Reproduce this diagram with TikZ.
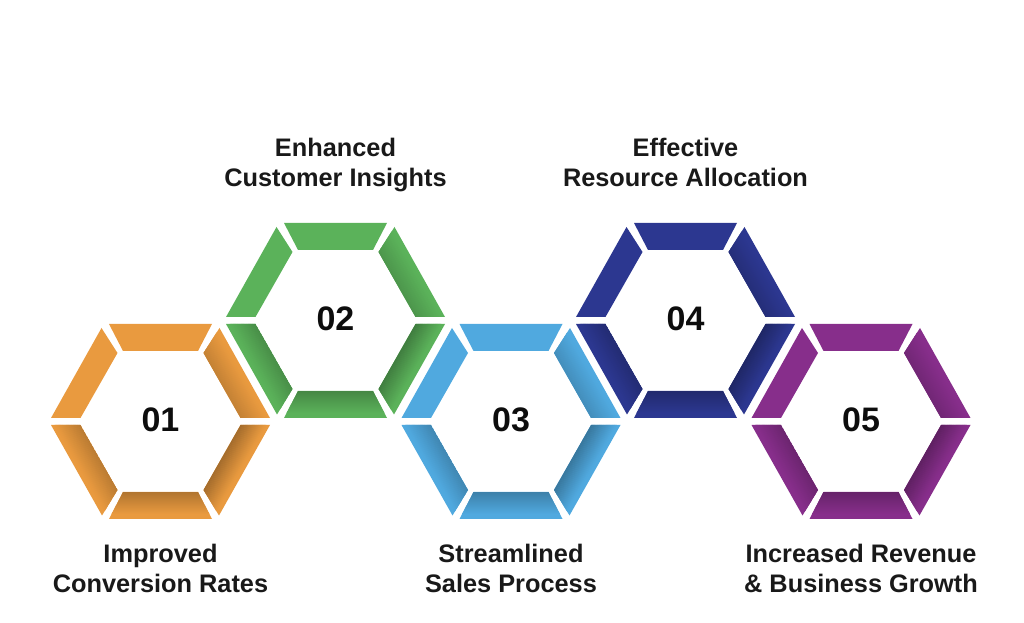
\documentclass[tikz,border=0pt]{standalone}
\usepackage{fontspec}
\setmainfont{Liberation Sans}
\usetikzlibrary{positioning}

\definecolor{hexorange}{HTML}{E99A3F}
\definecolor{hexgreen}{HTML}{5BB25A}
\definecolor{hexblue}{HTML}{50A9DF}
\definecolor{hexnavy}{HTML}{2C3790}
\definecolor{hexpurple}{HTML}{872E8B}

\tikzset{
    hexlabel/.style={align=center, anchor=north, font=\fontsize{19}{22.5}\selectfont\bfseries, text=black!90},
    hexnum/.style={font=\fontsize{25.5}{25.5}\selectfont\bfseries, text=black!95}
}

% one side of a ring: colour, outline, inner edge point, angle, shadow strength
\newcommand{\hexside}[5]{
    \fill[#1] #2 -- cycle;
    \begin{scope}
        \clip #2 -- cycle;
        \begin{scope}[shift={#3}, rotate=#4]
            \foreach \k in {0,...,21} {
                \pgfmathsetmacro{\tint}{#5+(100-#5)*\k/22}
                \fill[#1!\tint!black] (-300,\k) rectangle (300,\k+1.3);
            }
        \end{scope}
    \end{scope}
}

% six sides of a ring with its number in the middle
\newcommand{\hexring}[5]{
    \begin{scope}[shift={(#1,#2)}]
        \fill[#3] (-51.5,97.5) -- (51.5,97.5) -- (37.5,70.5) -- (-37.5,70.5) -- cycle;
        \fill[#3] (-59,93.5) -- (-43,68.5) -- (-80,3.5) -- (-109.5,3.5) -- cycle;
        \hexside{#3}{(59,93.5) -- (43,68.5) -- (80,3.5) -- (109.5,3.5)}{(80,3.5)}{-60}{84}
        \hexside{#3}{(-109.5,-3.5) -- (-80,-3.5) -- (-43,-68.5) -- (-58.5,-94)}{(-80,-3.5)}{120}{80}
        \hexside{#3}{(109.5,-3.5) -- (80,-3.5) -- (43,-68.5) -- (58.5,-94)}{(80,-3.5)}{-120}{70}
        \hexside{#3}{(-37.5,-70.5) -- (37.5,-70.5) -- (51.5,-97.5) -- (-51.5,-97.5)}{(0,-70.5)}{180}{76}
        \node[hexnum] (#5) at (0,2) {#4};
    \end{scope}
}

\begin{document}
\begin{tikzpicture}[x=0.75pt, y=0.75pt]
    \useasboundingbox (0,0) rectangle (1024,623);

    % Rings
    \hexring{160.5}{201.5}{hexorange}{01}{num1}
    \hexring{335.5}{302.5}{hexgreen}{02}{num2}
    \hexring{511}{201.5}{hexblue}{03}{num3}
    \hexring{685.5}{302.5}{hexnavy}{04}{num4}
    \hexring{861}{201.5}{hexpurple}{05}{num5}

    % Labels
    \node[hexlabel] (label1) at (160.5,83.5) {Improved\\Conversion Rates};
    \node[hexlabel] (label2) at (335.5,490) {Enhanced\\Customer Insights};
    \node[hexlabel] (label3) at (511,83.5) {Streamlined\\Sales Process};
    \node[hexlabel] (label4) at (685.5,490) {Effective\\Resource Allocation};
    \node[hexlabel] (label5) at (861,83.5) {Increased Revenue\\\& Business Growth};
\end{tikzpicture}
\end{document}
